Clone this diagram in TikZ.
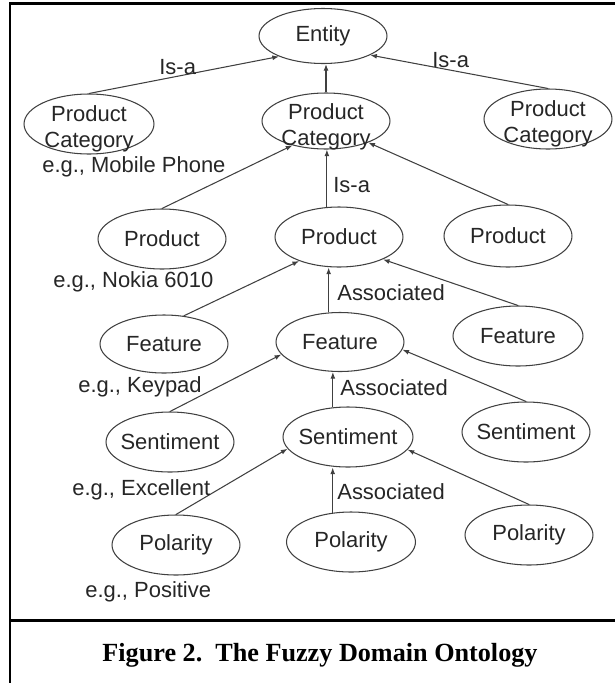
\documentclass[tikz,border=0pt]{standalone}
\usepackage{fontspec}
\setmainfont{Liberation Sans}
\newfontfamily\figfont{Liberation Serif}
\usetikzlibrary{shapes.geometric, arrows.meta}

\tikzset{
  concept/.style={draw=black!75, ellipse, line width=0.6pt,
                  minimum width=2.56cm, minimum height=1.2cm, inner sep=0pt},
  link/.style={draw=black!75, line width=0.6pt,
               -{Latex[length=3.8pt, width=2.8pt]}},
  tag/.style={anchor=west, inner sep=0pt}
}

\begin{document}
\begin{tikzpicture}[x=0.02cm, y=-0.02cm, text=black!85,
                    font=\fontsize{12.5}{14.5}\selectfont]
    \path [use as bounding box] (0, 0) rectangle (615, 683);
    \clip (0, 0) rectangle (615, 683);

    % Frame
    \draw [line width=0.06cm] (10, 700) -- (10, 3) -- (630, 3);
    \draw [line width=0.06cm] (10, 620) -- (630, 620);

    % Entity
    \path (323, 36) node [concept, minimum height=1.1cm] (entity) {}
          node (entity-t) {Entity};

    % Product categories
    \path (89, 124) node [concept, minimum width=2.6cm] (pc1) {}
          (89, 129) node [align=center] (pc1-t) {Product\\Category};
    \path (326, 121) node [concept, minimum height=1.12cm] (pc2) {}
          (326, 127) node [align=center] (pc2-t) {Product\\Category};
    \path (548, 119) node [concept] (pc3) {}
          (548, 124) node [align=center] (pc3-t) {Product\\Category};

    % Products
    \path (162, 239) node [concept] (p1) {} node (p1-t) {Product};
    \path (339, 237) node [concept] (p2) {} node (p2-t) {Product};
    \path (508, 236) node [concept, minimum height=1.24cm] (p3) {}
          node (p3-t) {Product};

    % Features
    \path (164, 344) node [concept, minimum height=1.16cm] (f1) {}
          node (f1-t) {Feature};
    \path (340, 342) node [concept, minimum height=1.18cm] (f2) {}
          node (f2-t) {Feature};
    \path (518, 336) node [concept, minimum width=2.6cm] (f3) {}
          node (f3-t) {Feature};

    % Sentiments
    \path (170, 442) node [concept] (s1) {} node (s1-t) {Sentiment};
    \path (348, 437) node [concept, minimum width=2.6cm] (s2) {}
          node (s2-t) {Sentiment};
    \path (526, 432) node [concept] (s3) {} node (s3-t) {Sentiment};

    % Polarities
    \path (176, 545) node [concept] (po1) {} node (po1-t) {Polarity};
    \path (351, 542) node [concept, minimum width=2.58cm] (po2) {}
          node (po2-t) {Polarity};
    \path (529, 535) node [concept] (po3) {} node (po3-t) {Polarity};

    % Is-a links
    \draw [link] (pc1.north) -- (entity.205);
    \draw [link] (pc2.north) -- (pc2.north |- entity.south);
    \draw [link] (pc3.north) -- (entity.338);

    \draw [link] (p1.north) -- (pc2.216);
    \draw [link] (p2.112) -- (p2.112 |- pc2.south);
    \draw [link] (p3.north) -- (pc2.333);

    % Associated links
    \draw [link] (f1.55) -- (p2.211);
    \draw [link] (f2.111) -- (f2.111 |- p2.south);
    \draw [link] (f3.north) -- (p2.333);

    \draw [link] (s1.north) -- (f2.192);
    \draw [link] (s2.117) -- (s2.117 |- f2.south);
    \draw [link] (s3.north) -- (f2.353);

    \draw [link] (po1.north) -- (s2.191);
    \draw [link] (po2.122) -- (po2.122 |- s2.south);
    \draw [link] (po3.north) -- (s2.348);

    % Link labels
    \node [tag] (isa1) at (159, 67) {Is-a};
    \node [tag] (isa2) at (432, 60) {Is-a};
    \node [tag] (isa3) at (333, 185) {Is-a};
    \node [tag] (as1) at (337, 293) {Associated};
    \node [tag] (as2) at (340, 388) {Associated};
    \node [tag] (as3) at (337, 492) {Associated};

    % Examples
    \node [tag] (eg1) at (42, 167) {e.g., Mobile Phone};
    \node [tag] (eg2) at (53, 282) {e.g., Nokia 6010};
    \node [tag] (eg3) at (78, 387) {e.g., Keypad};
    \node [tag] (eg4) at (72, 490) {e.g., Excellent};
    \node [tag] (eg5) at (85, 592) {e.g., Positive};

    % Caption
    \node [text=black, font=\figfont\bfseries\fontsize{14.9}{17}\selectfont]
          (caption) at (320, 655) {Figure 2.\ \ The Fuzzy Domain Ontology};

\end{tikzpicture}
\end{document}
